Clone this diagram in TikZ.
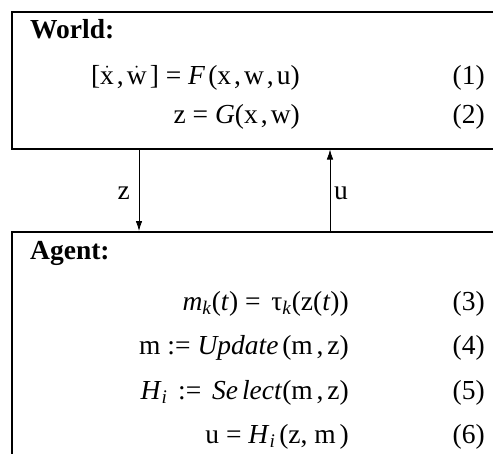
\documentclass[tikz,border=0pt]{standalone}
\usepackage{fontspec}
\setmainfont{Liberation Serif}
\usetikzlibrary{arrows.meta}
\newcommand\hs{\hspace{0.14em}}
\newcommand\ts{\hspace{0.11em}}
\newcommand\dotv[1]{$\dot{\hbox{#1}}$}
\begin{document}
\begin{tikzpicture}[x=1pt,y=-1pt,
  panel/.style={draw, line width=1.5pt, inner sep=0pt, anchor=north west},
  title/.style={anchor=base west, inner sep=0pt, font=\bfseries\fontsize{27.5}{33}\selectfont},
  eqn/.style={anchor=base east, inner sep=0pt, font=\fontsize{27.5}{33}\selectfont},
  num/.style={anchor=base east, inner sep=0pt, font=\fontsize{27.5}{33}\selectfont},
  lbl/.style={inner sep=0pt, font=\fontsize{27.5}{33}\selectfont},
  flow/.style={-{Latex[length=10pt,width=6.5pt]}, line width=0.8pt}]
\useasboundingbox (0,0) rectangle (493,453);
\clip (0,0) rectangle (493,453);
% panels
\node[panel, minimum width=499pt, minimum height=137pt] (world) at (11,11) {};
\node[panel, minimum width=499pt, minimum height=249pt] (agent) at (11,231) {};
% World
\node[title] (wt) at (30,38) {World:};
\node[eqn] (e1) at (300,84) {[\dotv{x}\ts,\ts\dotv{w}\ts] = \textit{F}\ts(x\ts,\ts w\ts,\ts u)};
\node[eqn] (e2) at (300,123) {z = \textit{G}(x\ts,\ts w)};
\node[num] (n1) at (485,84) {(1)};
\node[num] (n2) at (485,123) {(2)};
% Agent
\node[title] (at) at (30,259) {Agent:};
\node[eqn] (e3) at (349,310) {\textit{m}\textsubscript{\textit{k}}(\textit{t}) = \hs τ\textsubscript{\textit{k}}(z(\textit{t}))};
\node[eqn] (e4) at (349,354) {m := \textit{Update}\hs(m\hs,\hs z)};
\node[eqn] (e5) at (349,399) {\textit{H}\textsubscript{\textit{i}}\hs{} :=\hs{} \textit{Se\kern4pt lect}(m\hs,\hs z)};
\node[eqn] (e6) at (349,443) {u = \textit{H}\textsubscript{\textit{i}}\hs(z, m\hs)};
\node[num] (n3) at (485,310) {(3)};
\node[num] (n4) at (485,354) {(4)};
\node[num] (n5) at (485,399) {(5)};
\node[num] (n6) at (485,443) {(6)};
% connectors
\coordinate (zx) at (139,0);
\coordinate (ux) at (330,0);
\draw[flow] (world.south -| zx) -- (agent.north -| zx);
\draw[flow] (agent.north -| ux) -- (world.south -| ux);
\node[lbl, anchor=base east] (zl) at (130,199) {z};
\node[lbl, anchor=base west] (ul) at (334,199) {u};
\end{tikzpicture}
\end{document}
